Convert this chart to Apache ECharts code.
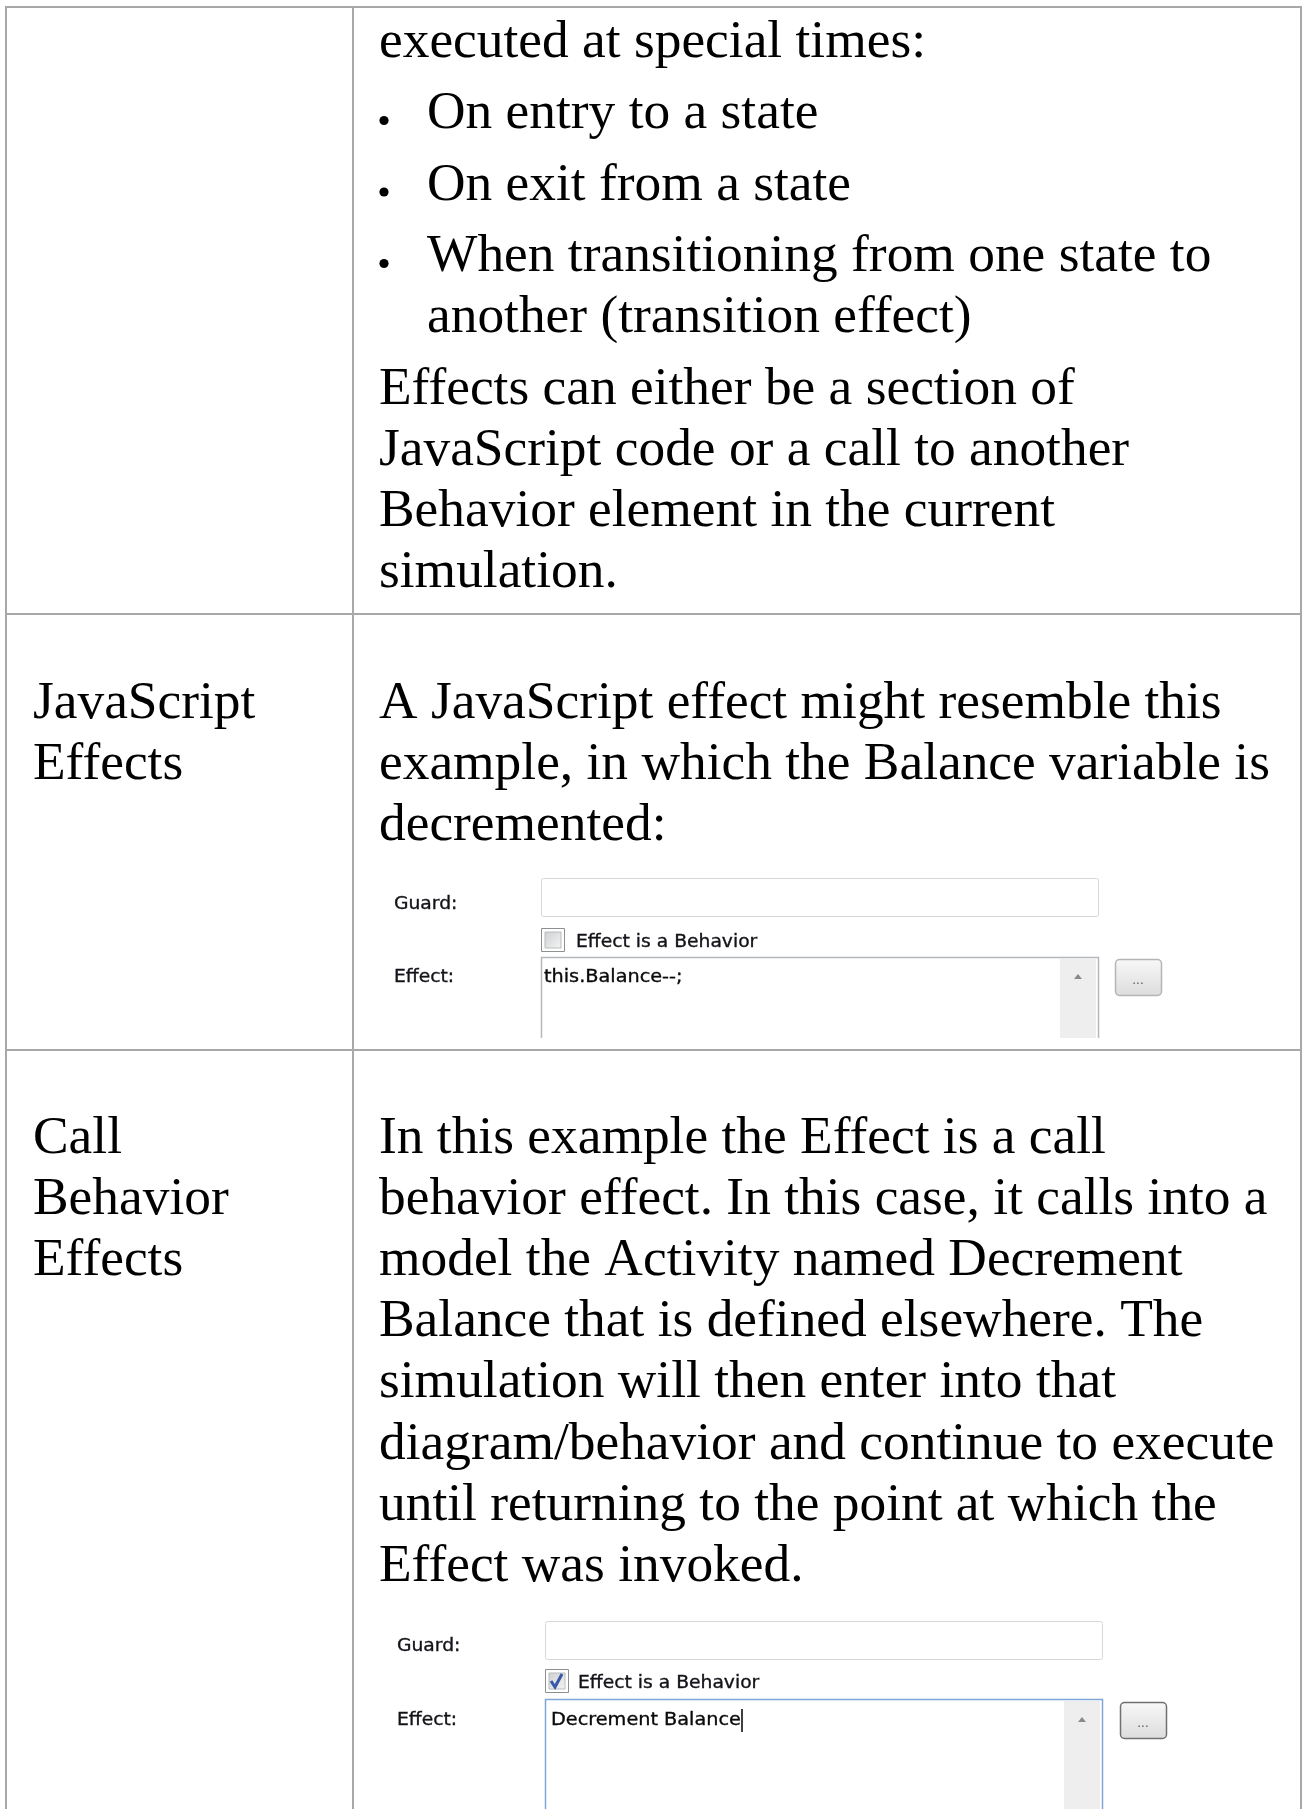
<!DOCTYPE html>
<html><head><meta charset="utf-8">
<script src="https://cdn.jsdelivr.net/npm/echarts@6/dist/echarts.min.js"></script>
<style>html,body{margin:0;padding:0;background:#fff}#c{width:1302px;height:1809px}</style>
</head><body><div id="c"></div>
<script>
// ---- content ----
const introLines = ["executed at special times:"];
const bulletItems = [
  ["On entry to a state"],
  ["On exit from a state"],
  ["When transitioning from one state to", "another (transition effect)"]
];
const effectsNote = ["Effects can either be a section of", "JavaScript code or a call to another", "Behavior element in the current", "simulation."];
const jsLabel = ["JavaScript", "Effects"];
const jsText = ["A JavaScript effect might resemble this", "example, in which the Balance variable is", "decremented:"];
const cbLabel = ["Call", "Behavior", "Effects"];
const cbText = ["In this example the Effect is a call", "behavior effect. In this case, it calls into a", "model the Activity named Decrement", "Balance that is defined elsewhere. The", "simulation will then enter into that", "diagram/behavior and continue to execute", "until returning to the point at which the", "Effect was invoked."];
const dialogLabels = ["Guard:", "Effect:"];
const checkboxLabel = "Effect is a Behavior";
const effectValues = ["this.Balance--;", "Decrement Balance"];
const checkedStates = [false, true];
const buttonLabel = "...";

// ---- drawing ----
const chart = echarts.init(document.getElementById('c'), null, {renderer: 'canvas'});
const els = [];
const SERIF_OFF = 14.5, UI_OFF = 6;
const LH = 61.2, BULLET_GAP = 71.5;
const GRID = '#a8a8a8';
const SERIF_FONT = "53.4px 'Liberation Serif', 'Times New Roman', serif";
const UI_FONT = "18px 'DejaVu Sans', sans-serif";

function serif(str, x, base) {
  els.push({type: 'text', x: x, y: base - SERIF_OFF, silent: true,
    style: {text: str, font: SERIF_FONT, fill: '#000',
      align: 'left', verticalAlign: 'middle', textAlign: 'left', textVerticalAlign: 'middle'}});
}
function ui(str, x, base, color, sx) {
  els.push({type: 'text', x: x, y: base - UI_OFF, scaleX: sx || 1.04, silent: true,
    style: {text: str, font: UI_FONT, fill: color || '#121218', stroke: color || '#121218', lineWidth: 0.35,
      align: 'left', verticalAlign: 'middle', textAlign: 'left', textVerticalAlign: 'middle'}});
}
function line(x1, y1, x2, y2, color, w) {
  els.push({type: 'line', silent: true, shape: {x1, y1, x2, y2}, style: {stroke: color, lineWidth: w || 1}});
}

// table grid
line(5, 7, 1302, 7, GRID, 2);
line(6, 6, 6, 1809, GRID, 2);
line(353, 6, 353, 1809, GRID, 2);
line(1301, 6, 1301, 1809, GRID, 2);
line(5, 614, 1302, 614, GRID, 2);
line(5, 1050, 1302, 1050, GRID, 2);

const XL = 33, XR = 379, XB = 427;
// row 1
let b = 57;
introLines.forEach(function (t) { serif(t, XR, b); });
b += BULLET_GAP;
bulletItems.forEach(function (item) {
  els.push({type: 'circle', silent: true, shape: {cx: 384, cy: b - 8, r: 4.6}, style: {fill: '#000'}});
  item.forEach(function (t, j) { serif(t, XB, b); if (j < item.length - 1) b += LH; });
  b += BULLET_GAP;
});
effectsNote.forEach(function (t, i) { serif(t, XR, b + i * LH); });

// row 2
jsLabel.forEach(function (t, i) { serif(t, XL, 718 + i * LH); });
jsText.forEach(function (t, i) { serif(t, XR, 718 + i * LH); });

// row 3
cbLabel.forEach(function (t, i) { serif(t, XL, 1153 + i * LH); });
cbText.forEach(function (t, i) { serif(t, XR, 1153 + i * LH); });

// dialogs
function dialog(d, k) {
  const bx = d.bx, bw = d.bw;
  ui(dialogLabels[0], d.lx, d.guardBase);
  els.push({type: 'rect', silent: true, shape: {x: bx + 0.5, y: d.guardTop + 0.5, width: bw, height: 38, r: 2},
    style: {fill: '#fff', stroke: '#d4d8dc', lineWidth: 1}});
  els.push({type: 'rect', silent: true, shape: {x: bx + 0.5, y: d.cbTop + 0.5, width: 23, height: 23},
    style: {fill: '#fff', stroke: '#8e8f8f', lineWidth: 1}});
  els.push({type: 'rect', silent: true, shape: {x: bx + 4, y: d.cbTop + 4, width: 16, height: 16},
    style: {fill: new echarts.graphic.LinearGradient(0, 0, 1, 1, [{offset: 0, color: '#cfd0d2'}, {offset: 1, color: '#f4f4f4'}]),
      stroke: '#b9bbbd', lineWidth: 1}});
  if (checkedStates[k]) {
    els.push({type: 'polyline', silent: true,
      shape: {points: [[bx + 6, d.cbTop + 12], [bx + 10, d.cbTop + 18], [bx + 17, d.cbTop + 5]]},
      style: {stroke: '#3a58a8', lineWidth: 3, fill: null}});
  }
  ui(checkboxLabel, d.cbTextX, d.cbBase);
  ui(dialogLabels[1], d.lx, d.effBase);
  const taBottom = d.taBottom;
  els.push({type: 'rect', silent: true, shape: {x: bx + bw - 38, y: d.taTop + 2, width: 36, height: taBottom - d.taTop - 2},
    style: {fill: '#eeeeee'}});
  els.push({type: 'polyline', silent: true,
    shape: {points: [[bx + 0.5, taBottom], [bx + 0.5, d.taTop + 0.5], [bx + bw + 0.5, d.taTop + 0.5], [bx + bw + 0.5, taBottom]]},
    style: {stroke: d.taColor, lineWidth: 1.5, fill: null}});
  const ax = bx + bw - 20, ay = d.effBase - 6;
  els.push({type: 'polygon', silent: true, shape: {points: [[ax - 4, ay + 2], [ax + 4, ay + 2], [ax, ay - 3]]},
    style: {fill: '#8a8a8a'}});
  ui(effectValues[k], d.valX, d.effBase, '#0a0a0a', 1.07);
  if (d.caret) line(d.caret, d.effBase - 17, d.caret, d.effBase + 6, '#000', 1.5);
  els.push({type: 'rect', silent: true, shape: {x: d.btnX + 0.5, y: d.btnY + 0.5, width: 46, height: 36, r: 4},
    style: {fill: new echarts.graphic.LinearGradient(0, 0, 0, 1, [{offset: 0, color: '#f8f8f8'}, {offset: 1, color: '#dcdcdc'}]),
      stroke: d.btnColor, lineWidth: 1.5}});
  els.push({type: 'text', x: d.btnX + 23, y: d.btnY + 22, silent: true,
    style: {text: buttonLabel, font: "12px 'DejaVu Sans', sans-serif", fill: '#555',
      align: 'center', verticalAlign: 'middle', textAlign: 'center', textVerticalAlign: 'middle'}});
}
dialog({lx: 394, bx: 541, bw: 557, guardBase: 910, guardTop: 878, cbTop: 928, cbTextX: 576, cbBase: 948,
  effBase: 983, taTop: 957, taBottom: 1038, taColor: '#b4b8bd', valX: 544, caret: null,
  btnX: 1115, btnY: 959, btnColor: '#b5b5b5'}, 0);
dialog({lx: 397, bx: 545, bw: 557, guardBase: 1652, guardTop: 1621, cbTop: 1669, cbTextX: 578, cbBase: 1689,
  effBase: 1726, taTop: 1699, taBottom: 1809, taColor: '#7fa6d6', valX: 551, caret: 742,
  btnX: 1120, btnY: 1702, btnColor: '#707070'}, 1);

chart.setOption({backgroundColor: '#ffffff', animation: false, graphic: {elements: els}});
</script></body></html>
